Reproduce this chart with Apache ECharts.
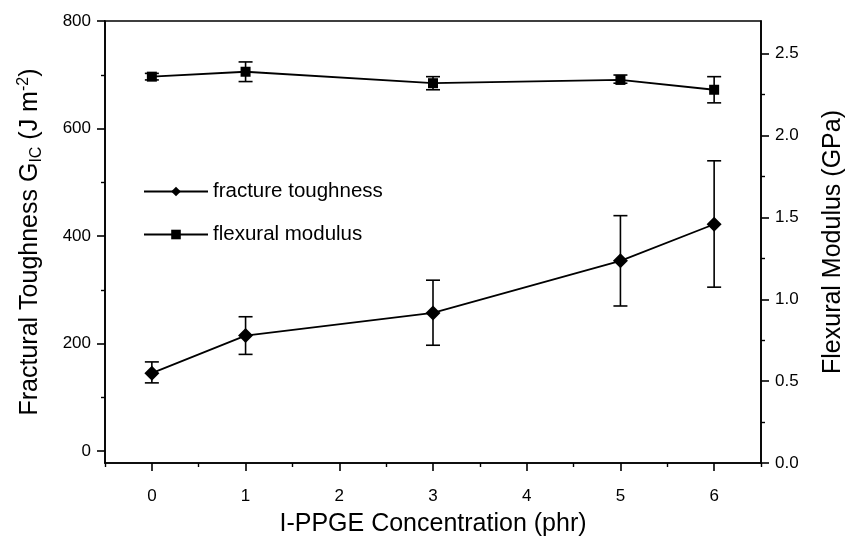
<!DOCTYPE html>
<html>
<head>
<meta charset="utf-8">
<script src="https://cdn.jsdelivr.net/npm/echarts@6/dist/echarts.min.js"></script>
<style>
  html, body { margin: 0; padding: 0; background: #fff; }
  #main { width: 849px; height: 540px; }
</style>
</head>
<body>
<div id="main"></div>
<script>
// concentration of I-PPGE (phr)
var conc = [0, 1, 3, 5, 6];
// fracture toughness G_IC (J m^-2) and error bar ends
var toughness = [145, 215, 257, 354, 422];
var toughLow = [127, 180, 197, 270, 305];
var toughHigh = [166, 250, 318, 438, 540];
// flexural modulus (GPa) and error bar ends
var modulus = [2.36, 2.39, 2.32, 2.34, 2.28];
var modLow = [2.34, 2.33, 2.28, 2.32, 2.20];
var modHigh = [2.38, 2.45, 2.36, 2.37, 2.36];

var xTicks = [0, 1, 2, 3, 4, 5, 6];
var xMinor = [-0.5, 0.5, 1.5, 2.5, 3.5, 4.5, 5.5, 6.5];
var leftTicks = [0, 200, 400, 600, 800];
var leftMinor = [100, 300, 500, 700];
var rightTicks = [0, 0.5, 1, 1.5, 2, 2.5];
var rightMinor = [0.25, 0.75, 1.25, 1.75, 2.25];

var FONT = 'Liberation Sans';

function pairs(xs, ys) {
  var out = [];
  for (var i = 0; i < xs.length; i++) out.push([xs[i], ys[i]]);
  return out;
}
function bars(xs, lo, hi) {
  var out = [];
  for (var i = 0; i < xs.length; i++) out.push([xs[i], lo[i], hi[i]]);
  return out;
}

// error bar with caps
function errorBar(params, api) {
  var x = api.value(0);
  var lo = api.coord([x, api.value(1)]);
  var hi = api.coord([x, api.value(2)]);
  var cap = 7;
  var st = { stroke: '#000', lineWidth: 1.6 };
  return {
    type: 'group',
    children: [
      { type: 'line', shape: { x1: lo[0], y1: lo[1], x2: hi[0], y2: hi[1] }, style: st },
      { type: 'line', shape: { x1: lo[0] - cap, y1: lo[1], x2: lo[0] + cap, y2: lo[1] }, style: st },
      { type: 'line', shape: { x1: hi[0] - cap, y1: hi[1], x2: hi[0] + cap, y2: hi[1] }, style: st }
    ]
  };
}

var axisLine = { onZero: false, lineStyle: { color: '#000', width: 1.6 } };
var noLine = { show: false, onZero: false };
var tickLab = { color: '#000', fontFamily: FONT, fontSize: 17 };

var chart = echarts.init(document.getElementById('main'));
var option = {
  backgroundColor: '#fff',
  animation: false,
  grid: {
    left: 105, right: 88, top: 21, bottom: 77,
    outerBoundsMode: 'none',
    containLabel: false,
    show: true, borderColor: '#000', borderWidth: 1.6
  },
  legend: {
    orient: 'vertical',
    left: 138, top: 176,
    itemGap: 22,
    itemWidth: 64, itemHeight: 12,
    data: ['fracture toughness', 'flexural modulus'],
    textStyle: { color: '#000', fontFamily: FONT, fontSize: 20.5 }
  },
  xAxis: [
    {
      type: 'value', min: -0.5, max: 6.5,
      name: 'I-PPGE Concentration (phr)',
      nameLocation: 'middle', nameGap: 49,
      nameTextStyle: { color: '#000', fontFamily: FONT, fontSize: 25 },
      axisLine: axisLine,
      axisTick: { customValues: xTicks, length: 8, lineStyle: { color: '#000', width: 1.6 } },
      axisLabel: Object.assign({ customValues: xTicks, margin: 25 }, tickLab),
      splitLine: { show: false }
    },
    {
      type: 'value', min: -0.5, max: 6.5, position: 'bottom',
      axisLine: noLine,
      axisTick: { customValues: xMinor, length: 4, lineStyle: { color: '#000', width: 1.4 } },
      axisLabel: { show: false },
      splitLine: { show: false }
    }
  ],
  yAxis: [
    {
      type: 'value', min: -22, max: 800, position: 'left',
      name: 'Fractural Toughness G{sub|IC} (J m{sup|-2})',
      nameLocation: 'middle', nameGap: 60,
      nameTextStyle: {
        color: '#000', fontFamily: FONT, fontSize: 25,
        rich: {
          sub: { fontFamily: FONT, fontSize: 16, color: '#000', verticalAlign: 'bottom', padding: [13, 0, 0, 0] },
          sup: { fontFamily: FONT, fontSize: 16, color: '#000', verticalAlign: 'top', padding: [0, 0, 11, 0] }
        }
      },
      axisLine: axisLine,
      axisTick: { customValues: leftTicks, length: 8, lineStyle: { color: '#000', width: 1.6 } },
      axisLabel: Object.assign({ customValues: leftTicks, margin: 14 }, tickLab),
      splitLine: { show: false }
    },
    {
      type: 'value', min: 0, max: 2.7, position: 'right',
      name: 'Flexural Modulus (GPa)',
      nameLocation: 'middle', nameGap: 60, nameRotate: 90,
      nameTextStyle: { color: '#000', fontFamily: FONT, fontSize: 25 },
      axisLine: axisLine,
      axisTick: { customValues: rightTicks, length: 8, lineStyle: { color: '#000', width: 1.6 } },
      axisLabel: Object.assign({ customValues: rightTicks, margin: 14, formatter: function (v) { return v.toFixed(1); } }, tickLab),
      splitLine: { show: false }
    },
    {
      type: 'value', min: -22, max: 800, position: 'left',
      axisLine: noLine,
      axisTick: { customValues: leftMinor, length: 4, lineStyle: { color: '#000', width: 1.4 } },
      axisLabel: { show: false },
      splitLine: { show: false }
    },
    {
      type: 'value', min: 0, max: 2.7, position: 'right',
      axisLine: noLine,
      axisTick: { customValues: rightMinor, length: 4, lineStyle: { color: '#000', width: 1.4 } },
      axisLabel: { show: false },
      splitLine: { show: false }
    }
  ],
  series: [
    {
      name: 'fracture toughness', type: 'line',
      data: pairs(conc, toughness),
      symbol: 'diamond', symbolSize: 15,
      lineStyle: { color: '#000', width: 1.8 },
      itemStyle: { color: '#000' },
      z: 3
    },
    {
      name: 'flexural modulus', type: 'line', yAxisIndex: 1,
      data: pairs(conc, modulus),
      symbol: 'rect', symbolSize: 10,
      lineStyle: { color: '#000', width: 1.8 },
      itemStyle: { color: '#000' },
      z: 3
    },
    {
      type: 'custom', name: 'toughErr',
      data: bars(conc, toughLow, toughHigh),
      renderItem: errorBar,
      encode: { x: 0, y: [1, 2] },
      z: 2
    },
    {
      type: 'custom', name: 'modErr', yAxisIndex: 1,
      data: bars(conc, modLow, modHigh),
      renderItem: errorBar,
      encode: { x: 0, y: [1, 2] },
      z: 2
    }
  ]
};
chart.setOption(option);
</script>
</body>
</html>
